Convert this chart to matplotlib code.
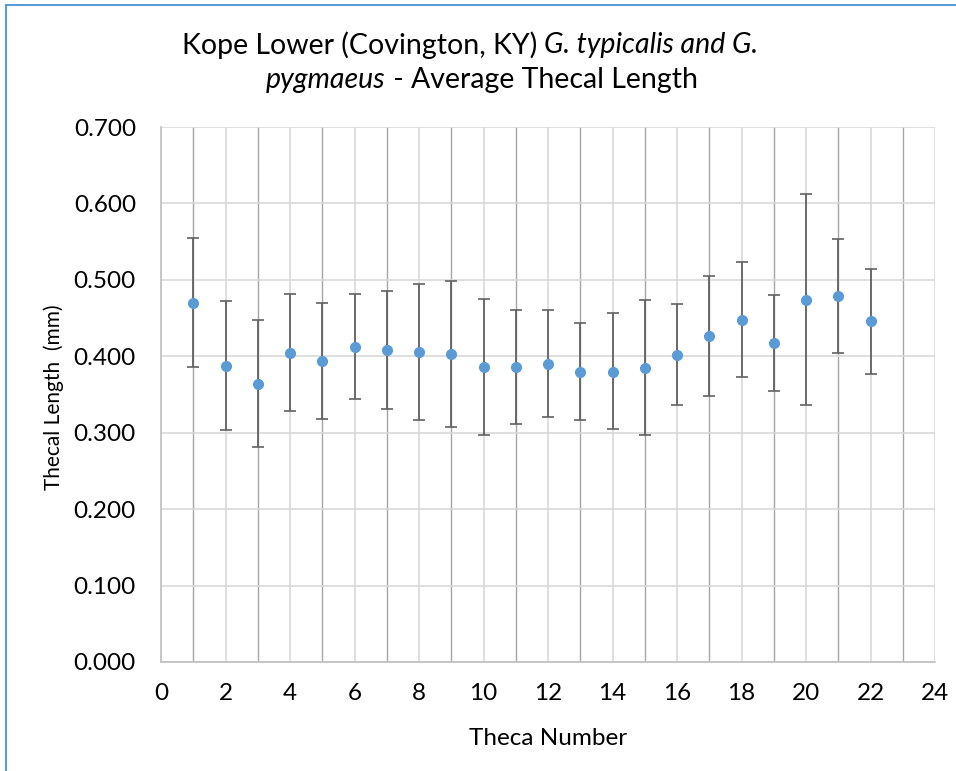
import matplotlib
matplotlib.use("Agg")
import matplotlib.pyplot as plt
from matplotlib.patches import Rectangle
import numpy as np

theca = [1, 2, 3, 4, 5, 6, 7, 8, 9, 10, 11, 12, 13, 14, 15, 16, 17, 18, 19, 20, 21, 22]
mean_len = [0.470, 0.387, 0.364, 0.404, 0.394, 0.412, 0.408, 0.406, 0.403, 0.386, 0.386,
            0.390, 0.380, 0.380, 0.385, 0.402, 0.426, 0.448, 0.418, 0.473, 0.479, 0.446]
upper_val = [0.555, 0.472, 0.448, 0.482, 0.470, 0.482, 0.486, 0.495, 0.498, 0.475, 0.460,
             0.460, 0.444, 0.456, 0.474, 0.469, 0.505, 0.523, 0.480, 0.612, 0.554, 0.514]
lower_val = [0.386, 0.303, 0.281, 0.328, 0.318, 0.344, 0.331, 0.316, 0.308, 0.297, 0.311,
             0.320, 0.316, 0.305, 0.297, 0.336, 0.348, 0.373, 0.354, 0.336, 0.404, 0.377]
xticks = list(range(0, 25, 2))
yticks = [0.0, 0.1, 0.2, 0.3, 0.4, 0.5, 0.6, 0.7]

plt.rcParams['font.family'] = ['Lato', 'DejaVu Sans']

W, H = 956, 771
fig = plt.figure(figsize=(W / 100, H / 100), dpi=100)
ax = fig.add_axes([161 / W, 1 - 662 / H, (935 - 161) / W, (662 - 127) / H])

m = np.array(mean_len)
err = [m - np.array(lower_val), np.array(upper_val) - m]

ax.set_xlim(0, 24)
ax.set_ylim(0, 0.7)
ax.set_xticks(xticks)
ax.set_xticks(range(1, 24, 2), minor=True)
ax.set_yticks(yticks)
ax.set_yticklabels([f"{v:.3f}" for v in yticks])
ax.grid(which='major', color='#d9d9d9', linewidth=1.2, zorder=0)
ax.grid(which='minor', axis='x', color='#a6a6a6', linewidth=1.0, zorder=0)
ax.set_axisbelow(True)
ax.tick_params(which='both', length=0, labelsize=17.5, colors='#000000')
ax.tick_params(axis='y', pad=18)
ax.tick_params(axis='x', pad=15)
for s in ['top', 'right']:
    ax.spines[s].set_visible(False)
for s in ['left', 'bottom']:
    ax.spines[s].set_color('#bfbfbf')
    ax.spines[s].set_linewidth(1.2)

ax.errorbar(theca, mean_len, yerr=err, fmt='o', color='#5b9bd5', markersize=7,
            ecolor='#616161', elinewidth=1.3, capsize=4, capthick=1.2, zorder=3)

ax.set_xlabel('Theca Number', fontsize=17.5)
ax.set_ylabel('Thecal Length  (mm)', fontsize=15)
ax.xaxis.set_label_coords(0.5, (662 - 728) / 535)
ax.yaxis.set_label_coords((64 - 161) / 774, (662 - 397) / 535)

# Title with mixed italic
renderer = fig.canvas.get_renderer()
tfs = 20.5
def line(parts, ycenter, xcenter):
    texts = []
    for s, st in parts:
        t = fig.text(0, 0, s, fontsize=tfs, style=st, ha='left', va='center',
                     transform=None)
        texts.append(t)
    widths = [t.get_window_extent(renderer).width for t in texts]
    total = sum(widths)
    x = xcenter - total / 2
    for t, w in zip(texts, widths):
        t.set_position((x, H - ycenter))
        x += w

line([("Kope Lower (Covington, KY) ", 'normal'), ("G. typicalis and G.", 'italic')], 45, 470)
line([("pygmaeus", 'italic'), (" - Average Thecal Length", 'normal')], 80, 482)

fig.patches.append(Rectangle((6 / W, -0.01), 1.02, 1 - 5 / H + 0.01, transform=fig.transFigure,
                             fill=False, edgecolor='#5b9bd5', linewidth=1.5))

fig.savefig('out.png', dpi=100)
